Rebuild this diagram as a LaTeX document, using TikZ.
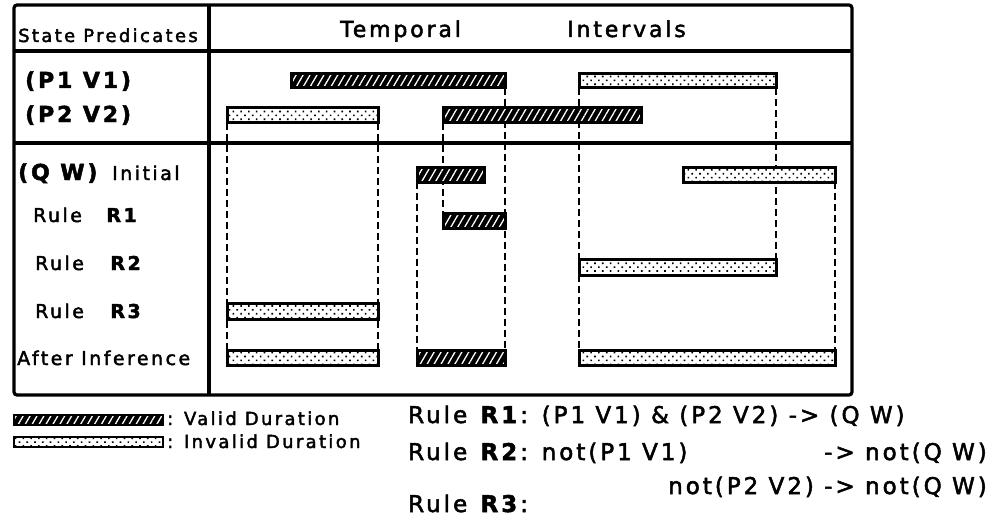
\documentclass[tikz,border=0pt]{standalone}
\usepackage{fontspec}
\setmainfont{DejaVu Sans}[LetterSpace=13, FakeBold=2.2]
\usepackage{tikz}
\usetikzlibrary{patterns.meta}

\begin{document}
\begin{tikzpicture}[x=1pt, y=-1pt,
  valida/.style={preaction={fill=black}, pattern={Lines[angle=60, distance=6pt, line width=1.3pt]}, pattern color=white, draw=black, line width=3pt},
  invalida/.style={preaction={fill=white}, pattern={Dots[distance=5.5pt, angle=45, radius=1.15pt]}, pattern color=black, draw=black, line width=3pt},
  guia/.style={dash pattern=on 7pt off 4pt, line width=2.8pt},
  borde/.style={line width=3.2pt},
  etiqueta/.style={anchor=base west, inner sep=0pt, font=\fontsize{19}{21}\selectfont},
  predicado/.style={etiqueta, font=\fontsize{22}{24}\selectfont\bfseries},
  titulo/.style={etiqueta, font=\fontsize{22}{24}\selectfont},
  regla/.style={etiqueta, font=\fontsize{23}{25}\selectfont}]
% Marco de la figura
\useasboundingbox (0,0) rectangle (1003,516);

% Tabla
\draw[borde, rounded corners=3pt] (14,5) rectangle (852,395);
\draw[borde] (14,51) -- (852,51);
\draw[borde] (14,143) -- (852,143);
\draw[borde] (209,5) -- (209,395);

% Encabezados
\node[etiqueta, font=\fontsize{18}{20}\selectfont] (estados) at (18,42) {State Predicates};
\node[titulo] (temporal) at (340,37) {Temporal};
\node[titulo] (intervalos) at (567,37) {Intervals};

% Etiquetas de las filas
\node[predicado] (p1) at (25,88) {(P1 V1)};
\node[predicado] (p2) at (25,122) {(P2 V2)};
\node[predicado] (qw) at (18,180) {(Q W)};
\node[etiqueta] (inicial) at (112,180) {Initial};
\node[etiqueta] (r1) at (33,222) {Rule\hspace{22pt}\textbf{R1}};
\node[etiqueta] (r2) at (35,270) {Rule\hspace{24pt}\textbf{R2}};
\node[etiqueta] (r3) at (35,318) {Rule\hspace{24pt}\textbf{R3}};
\node[etiqueta] (despues) at (17,365) {After Inference};

% Lineas de referencia (discontinuas)
\draw[guia] (227,123) -- (227,350);
\draw[guia] (378,123) -- (378,350);
\draw[guia] (417,182) -- (417,350);
\draw[guia] (443,123) -- (443,213);
\draw[guia] (505,88) -- (505,350);
\draw[guia] (579,88) -- (579,350);
\draw[guia] (776,88) -- (776,259);
\draw[guia] (835,182) -- (835,350);

% Intervalos de (P1 V1) y (P2 V2)
\draw[valida] (291,74) rectangle (505,88);
\draw[invalida] (579,74) rectangle (776,88);
\draw[invalida] (227,108) rectangle (378,123);
\draw[valida] (443,108) rectangle (641,123);

% Intervalos de (Q W)
\draw[valida] (417,167) rectangle (484,182);
\draw[invalida] (683,167) rectangle (835,182);
\draw[valida] (443,213) rectangle (505,228);
\draw[invalida] (579,259) rectangle (776,275);
\draw[invalida] (227,303) rectangle (378,319);

% Resultado despues de la inferencia
\draw[invalida] (227,350) rectangle (378,365);
\draw[valida] (417,350) rectangle (505,365);
\draw[invalida] (579,350) rectangle (835,365);

% Leyenda
\draw[valida, line width=2.4pt] (14,415) rectangle (163,425);
\draw[invalida, line width=2.4pt] (14,437) rectangle (163,447);
\node[etiqueta, font=\fontsize{18}{20}\selectfont] (leyvalida) at (167,425) {: Valid Duration};
\node[etiqueta, font=\fontsize{18}{20}\selectfont] (leyinvalida) at (167,448) {: Invalid Duration};

% Reglas
\node[regla] (regla1) at (408,423) {Rule \textbf{R1}: (P1 V1) \& (P2 V2) -> (Q W)};
\node[regla] (regla2) at (408,460) {Rule \textbf{R2}: not(P1 V1)};
\node[regla, anchor=base east] (regla2b) at (987,460) {-> not(Q W)};
\node[regla, anchor=base east] (regla3b) at (987,494) {not(P2 V2) -> not(Q W)};
\node[regla] (regla3) at (408,512) {Rule \textbf{R3}:};
\end{tikzpicture}
\end{document}
